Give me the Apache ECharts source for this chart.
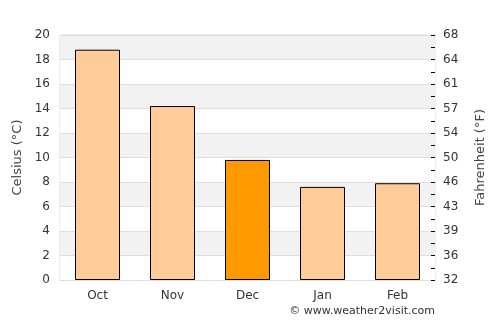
<!DOCTYPE html>
<html><head><meta charset="utf-8">
<script src="https://cdn.jsdelivr.net/npm/echarts@6/dist/echarts.min.js"></script>
<style>html,body{margin:0;padding:0;background:#fff}#c{width:500px;height:325px}</style>
</head><body><div id="c"></div>
<script>
var months = ['Oct', 'Nov', 'Dec', 'Jan', 'Feb'];
var celsius = [18.8, 14.2, 9.8, 7.6, 7.9];
var highlightIndex = 2;
var leftTicks = [0, 2, 4, 6, 8, 10, 12, 14, 16, 18, 20];

var font = 'DejaVu Sans';
var chart = echarts.init(document.getElementById('c'), null, {renderer: 'canvas'});
chart.setOption({
  animation: false,
  grid: {left: 60, right: 65, top: 35, bottom: 45, show: true, borderColor: '#dddddd', borderWidth: 1, backgroundColor: 'transparent'},
  xAxis: {
    type: 'category', data: months,
    axisLine: {show: true, lineStyle: {color: '#dddddd'}},
    axisTick: {show: false},
    axisLabel: {color: '#333333', fontFamily: font, fontSize: 12, margin: 10}
  },
  yAxis: [{
    type: 'value', min: 0, max: 20, interval: 2,
    name: 'Celsius (°C)', nameLocation: 'middle', nameGap: 34, nameRotate: 90,
    nameTextStyle: {color: '#444444', fontFamily: font, fontSize: 13},
    axisLine: {show: false}, axisTick: {show: false},
    axisLabel: {color: '#333333', fontFamily: font, fontSize: 12, margin: 10},
    splitLine: {show: true, lineStyle: {color: '#dddddd'}},
    splitArea: {show: true, areaStyle: {color: ['#ffffff', '#f2f2f2']}}
  }, {
    type: 'value', min: 0, max: 20, interval: 1, position: 'right',
    name: 'Fahrenheit (°F)', nameLocation: 'middle', nameGap: 39, nameRotate: 90,
    nameTextStyle: {color: '#444444', fontFamily: font, fontSize: 13},
    axisLine: {show: false},
    axisTick: {show: true, inside: true, length: 4, lineStyle: {color: '#000000'}},
    axisLabel: {color: '#333333', fontFamily: font, fontSize: 12, margin: 8,
      formatter: function (v) { return (v % 2 === 0) ? String(Math.round(v * 9 / 5 + 32)) : ''; }},
    splitLine: {show: false}
  }],
  series: [{
    type: 'bar', yAxisIndex: 0, barWidth: '60%',
    data: celsius.map(function (v, i) {
      return {value: v, itemStyle: {color: i === highlightIndex ? '#ff9900' : '#ffcc99'}};
    }),
    itemStyle: {borderColor: '#000000', borderWidth: 1}
  }],
  graphic: [{
    type: 'text', right: 65, top: 306,
    style: {text: '© www.weather2visit.com', fill: '#333333', font: '11px "DejaVu Sans"'}
  }]
});
</script></body></html>
